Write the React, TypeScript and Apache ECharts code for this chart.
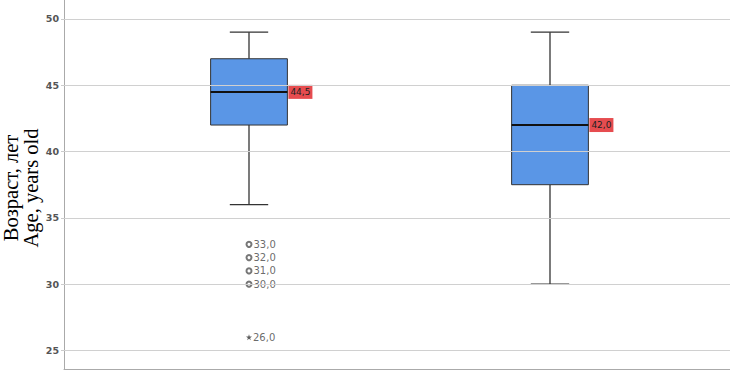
import React, { useEffect, useRef } from "react";
import * as echarts from "echarts";

// Data
const categories = ["Group 1", "Group 2"];
// [min, Q1, median, Q3, max]
const boxStats = [
  [36, 42, 44.5, 47, 49],
  [30, 37.5, 42, 45, 49],
];
const circleOutliers = [
  [0, 33],
  [0, 32],
  [0, 31],
  [0, 30],
];
const extremeOutliers = [[0, 26]];
const yTicks = [25, 30, 35, 40, 45, 50];
const yMin = 23.6;
const yMax = 51.43;

const fmt = (v: number) => v.toFixed(1).replace(".", ",");

export default function App() {
  const ref = useRef<HTMLDivElement>(null);
  useEffect(() => {
    if (!ref.current) return;
    const chart = echarts.init(ref.current, undefined, { renderer: "svg" });
    const labelFont = { fontFamily: "DejaVu Sans", fontSize: 10, color: "#444" };
    const option: any = {
      animation: false,
      backgroundColor: "#fff",
      grid: [
        { left: 64, right: 0, top: 0, bottom: 4 },
        { left: 98.5, right: 29.5, top: 0, bottom: 4 },
      ],
      xAxis: [
        {
          type: "value",
          gridIndex: 0,
          min: 0,
          max: 1,
          axisLine: { show: true, lineStyle: { color: "#aaa", width: 1 } },
          axisTick: { show: false },
          axisLabel: { show: false },
          splitLine: { show: false },
        },
        {
          type: "category",
          gridIndex: 1,
          data: categories,
          show: false,
        },
      ],
      yAxis: [
        {
          type: "value",
          gridIndex: 0,
          min: yMin,
          max: yMax,
          axisLine: { show: true, lineStyle: { color: "#aaa", width: 1 } },
          axisTick: {
            show: true,
            length: 3,
            customValues: yTicks,
            lineStyle: { color: "#ccc" },
          },
          axisLabel: {
            show: true,
            customValues: yTicks,
            margin: 5,
            fontFamily: "DejaVu Sans",
            fontSize: 9.5,
            fontWeight: "bold",
            color: "#555",
          },
          splitLine: { show: false },
        },
        {
          type: "value",
          gridIndex: 1,
          min: yMin,
          max: yMax,
          show: false,
        },
      ],
      graphic: [
        {
          type: "text",
          x: 20.5,
          y: 188,
          rotation: Math.PI / 2,
          style: {
            text: "Возраст, лет\nAge, years old",
            align: "center",
            verticalAlign: "middle",
            fontFamily: "Liberation Serif",
            fontSize: 20.5,
            lineHeight: 20,
            fill: "#000",
          },
        },
      ],
      series: [
        {
          type: "line",
          xAxisIndex: 0,
          yAxisIndex: 0,
          data: [],
          silent: true,
          markLine: {
            silent: true,
            symbol: "none",
            label: { show: false },
            lineStyle: { color: "#d0d0d0", type: "solid", width: 1 },
            data: yTicks.map((v) => ({ yAxis: v })),
          },
        },
        {
          type: "custom",
          xAxisIndex: 1,
          yAxisIndex: 1,
          data: boxStats.map((s, i) => [i, ...s]),
          encode: { x: 0, y: [1, 2, 3, 4, 5] },
          renderItem: (params: any, api: any) => {
            const idx = api.value(0);
            const lo = api.coord([idx, api.value(1)]);
            const q1 = api.coord([idx, api.value(2)]);
            const medV = api.value(3);
            const med = api.coord([idx, medV]);
            const q3 = api.coord([idx, api.value(4)]);
            const hi = api.coord([idx, api.value(5)]);
            const band = api.size([1, 0])[0];
            const bw = band * 0.255;
            const cw = bw / 2;
            const cx = med[0];
            const stroke = { stroke: "#333", lineWidth: 1.3 };
            return {
              type: "group",
              children: [
                { type: "line", shape: { x1: cx, y1: hi[1], x2: cx, y2: q3[1] }, style: stroke },
                { type: "line", shape: { x1: cx, y1: q1[1], x2: cx, y2: lo[1] }, style: stroke },
                { type: "line", shape: { x1: cx - cw / 2, y1: hi[1], x2: cx + cw / 2, y2: hi[1] }, style: stroke },
                { type: "line", shape: { x1: cx - cw / 2, y1: lo[1], x2: cx + cw / 2, y2: lo[1] }, style: stroke },
                {
                  type: "rect",
                  shape: { x: cx - bw / 2, y: q3[1], width: bw, height: q1[1] - q3[1] },
                  style: { fill: "#5a96e6", stroke: "#333", lineWidth: 1 },
                },
                {
                  type: "line",
                  shape: { x1: cx - bw / 2, y1: med[1], x2: cx + bw / 2, y2: med[1] },
                  style: { stroke: "#111", lineWidth: 2 },
                },
                {
                  type: "text",
                  x: cx + bw / 2 + 1,
                  y: med[1],
                  style: {
                    text: fmt(medV),
                    align: "left",
                    verticalAlign: "middle",
                    fontFamily: "DejaVu Sans",
                    fontSize: 9,
                    fill: "#222",
                    backgroundColor: "#e64c4f",
                    padding: [3, 2, 2, 2],
                  },
                },
              ],
            };
          },
        },
        {
          type: "scatter",
          xAxisIndex: 1,
          yAxisIndex: 1,
          data: circleOutliers,
          symbol: "emptyCircle",
          symbolSize: 5,
          itemStyle: { color: "#555", borderColor: "#555", borderWidth: 1 },
          label: {
            show: true,
            position: "right",
            distance: 1,
            ...labelFont,
            formatter: (p: any) => fmt(p.value[1]),
          },
        },
        {
          type: "scatter",
          xAxisIndex: 1,
          yAxisIndex: 1,
          data: extremeOutliers,
          symbol:
            "path://M50,0 L61,35 L98,35 L68,57 L79,91 L50,70 L21,91 L32,57 L2,35 L39,35 Z",
          symbolSize: 6,
          itemStyle: { color: "#333" },
          label: {
            show: true,
            position: "right",
            distance: 1,
            ...labelFont,
            formatter: (p: any) => fmt(p.value[1]),
          },
        },
      ],
    };
    chart.setOption(option);
    return () => chart.dispose();
  }, []);
  return (
    <div
      ref={ref}
      style={{ position: "fixed", left: 0, top: 0, width: 730, height: 373 }}
    />
  );
}
